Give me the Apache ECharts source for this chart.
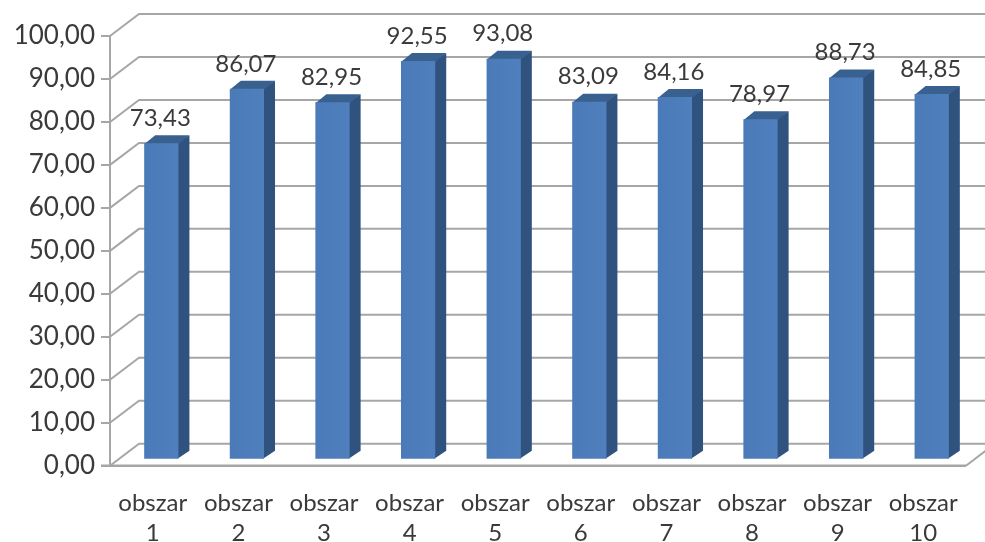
<!DOCTYPE html>
<html><head><meta charset="utf-8">
<style>html,body{margin:0;padding:0;background:#fff}#c{width:985px;height:542px}</style>
<script src="https://cdn.jsdelivr.net/npm/echarts@6/dist/echarts.min.js"></script>
</head><body><div id="c"></div>
<script>
const categories = ['obszar\n1','obszar\n2','obszar\n3','obszar\n4','obszar\n5','obszar\n6','obszar\n7','obszar\n8','obszar\n9','obszar\n10'];
const values = [73.43,86.07,82.95,92.55,93.08,83.09,84.16,78.97,88.73,84.85];
const yTicks = [0,10,20,30,40,50,60,70,80,90,100];

const font = 'Lato', txt = '#3a3a3a', grey = '#a6a6a6';
const wallDX = 29, wallDY = -22;
const chart = echarts.init(document.getElementById('c'), null, {renderer:'canvas'});
const fmt = v => Number(v).toFixed(2).replace('.', ',');

function renderWall(params, api){
  const v = api.value(1);
  const band = api.size([1,0])[0];
  const f = api.coord([0, v]);
  const r = api.coord([categories.length-1, v]);
  const x0 = f[0]-band/2, x1 = r[0]+band/2, y = f[1];
  const style = {stroke:grey, lineWidth:2, fill:null};
  return {type:'polyline', silent:true,
    shape:{points:[[x0,y],[x0+wallDX,y+wallDY],[x1+wallDX,y+wallDY]]}, style};
}
function renderFloor(params, api){
  const band = api.size([1,0])[0];
  const r = api.coord([categories.length-1, 0]);
  const x1 = r[0]+band/2, y = r[1];
  return {type:'group', children:[
    {type:'line', silent:true, shape:{x1:x1,y1:y,x2:x1+wallDX,y2:y+wallDY}, style:{stroke:grey, lineWidth:2}},
    {type:'line', silent:true, shape:{x1:x1-band*10-9,y1:y,x2:x1,y2:y}, style:{stroke:grey, lineWidth:2.5}}
  ]};
}
function renderBar(params, api){
  const p = api.coord([api.value(0), api.value(1)]);
  const base = api.coord([api.value(0), 0]);
  const band = api.size([1,0])[0];
  const w = band*0.4, ox = 8.5, oy = -7, dx = 11, dy = -8;
  const x0 = p[0]+ox-w/2, x1 = x0+w, yt = p[1]+oy, yb = base[1]+oy;
  return {type:'group', children:[
    {type:'polygon', shape:{points:[[x1-1,yt],[x1+dx,yt+dy],[x1+dx,yb+dy],[x1-1,yb]]}, style:{fill:'#30527f'}},
    {type:'polygon', shape:{points:[[x0,yt+1],[x0+dx,yt+dy],[x1+dx,yt+dy],[x1,yt+1]]}, style:{fill:'#38618f'}},
    {type:'rect', shape:{x:x0,y:yt,width:w,height:yb-yt},
      style:{fill:{type:'linear',x:0,y:0,x2:1,y2:0,colorStops:[{offset:0,color:'#4a7bb8'},{offset:1,color:'#4f80bd'}]}}},
    {type:'text', style:{text:fmt(api.value(1)), x:x0+w/2-1, y:yt-25, align:'center', verticalAlign:'middle',
      font:'24px '+font, fill:txt}}
  ]};
}

chart.setOption({
  animation:false,
  backgroundColor:'#fff',
  grid:{left:110, top:36, width:856, height:429.7, outerBoundsMode:'none'},
  xAxis:{type:'category', data:categories, boundaryGap:true,
    axisLine:{show:false}, axisTick:{show:false},
    axisLabel:{interval:0, margin:23, fontFamily:font, fontSize:24, lineHeight:30, color:txt}},
  yAxis:{type:'value', min:0, max:100, interval:10,
    axisLine:{show:true, lineStyle:{color:grey, width:2}},
    axisTick:{show:true, length:9, lineStyle:{color:grey, width:2}},
    splitLine:{show:false},
    axisLabel:{margin:15, fontFamily:font, fontSize:26, color:txt, padding:[4,0,0,0], formatter:v=>fmt(v)}},
  series:[
    {type:'custom', clip:false, z:1, renderItem:renderWall, data:yTicks.map(v=>[0,v]), silent:true},
    {type:'custom', clip:false, z:1, renderItem:renderFloor, data:[[0,0]], silent:true},
    {type:'custom', clip:false, z:3, renderItem:renderBar, data:values.map((v,i)=>[i,v])}
  ]
});
</script></body></html>
